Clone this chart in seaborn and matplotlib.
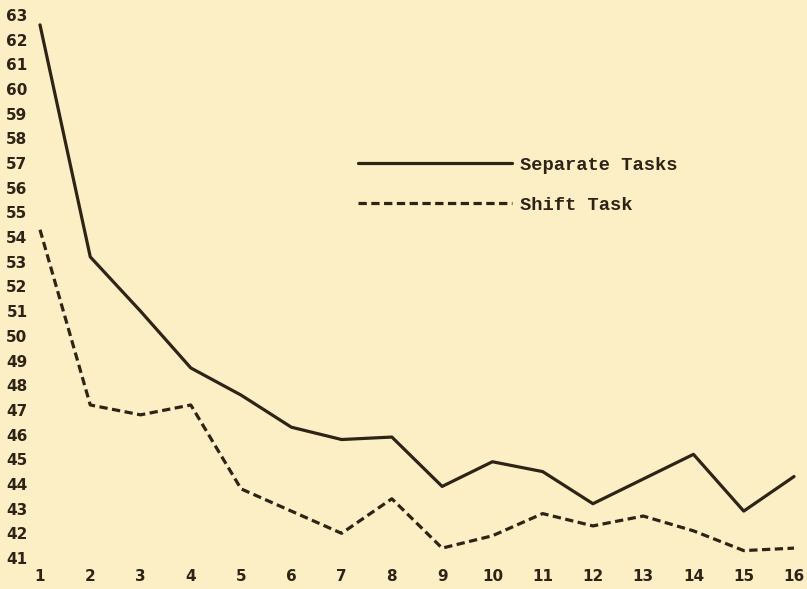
"""
Separate tasks vs shift task curve, redrawn from an old typed chart.
"""

import matplotlib.pyplot as plt
import pandas as pd
import seaborn as sns

# Trials 1..16
trials = list(range(1, 17))

# Values
separate_tasks = [62.6, 53.2, 51.0, 48.7, 47.6, 46.3, 45.8, 45.9,
                  43.9, 44.9, 44.5, 43.2, 44.2, 45.2, 42.9, 44.3]
shift_task = [54.3, 47.2, 46.8, 47.2, 43.8, 42.9, 42.0, 43.4,
              41.4, 41.9, 42.8, 42.3, 42.7, 42.1, 41.3, 41.4]

y_ticks = list(range(41, 64))

paper = "#fcefc6"
ink = "#2e2416"

sns.set_theme(style="white")
plt.rcParams["font.family"] = ["DejaVu Sans"]

df = pd.DataFrame({
    "trial": trials * 2,
    "value": separate_tasks + shift_task,
    "series": ["Separate Tasks"] * len(trials) + ["Shift Task"] * len(trials),
})

fig = plt.figure(figsize=(8.07, 5.89), dpi=100)
fig.patch.set_facecolor(paper)

# axes box fitted so that x=1..16 and y=41..63 land where they do in the scan
W, H = 807, 589
left, right, top, bottom = 40, 794, 15, 558
ax = fig.add_axes([left / W, 1 - bottom / H, (right - left) / W, (bottom - top) / H])
ax.set_facecolor(paper)

sns.lineplot(
    data=df,
    x="trial",
    y="value",
    style="series",
    dashes={"Separate Tasks": "", "Shift Task": (2.6, 1.4)},
    color=ink,
    linewidth=2.3,
    ax=ax,
)
for line in ax.lines:
    line.set_clip_on(False)
    line.set_color(ink)

ax.set_xlim(1, 16)
ax.set_ylim(41, 63)
ax.set_xticks(trials)
ax.set_yticks(y_ticks)
ax.set_xlabel("")
ax.set_ylabel("")
for s in ax.spines.values():
    s.set_visible(False)
ax.tick_params(axis="both", length=0, labelcolor=ink, labelsize=11)
ax.tick_params(axis="y", pad=9)
ax.tick_params(axis="x", pad=8)
for lab in ax.get_xticklabels() + ax.get_yticklabels():
    lab.set_fontweight("bold")

leg = ax.legend(
    loc="upper left",
    bbox_to_anchor=(0.422, 0.739),
    frameon=False,
    handlelength=8.2,
    handletextpad=0.45,
    labelspacing=1.22,
    borderpad=0,
    borderaxespad=0,
    prop={"family": "Liberation Mono", "weight": "bold", "size": 13.5},
)
for h in leg.get_lines():
    h.set_color(ink)
for t in leg.get_texts():
    t.set_color(ink)

fig.savefig("out.png", dpi=100, facecolor=paper)
